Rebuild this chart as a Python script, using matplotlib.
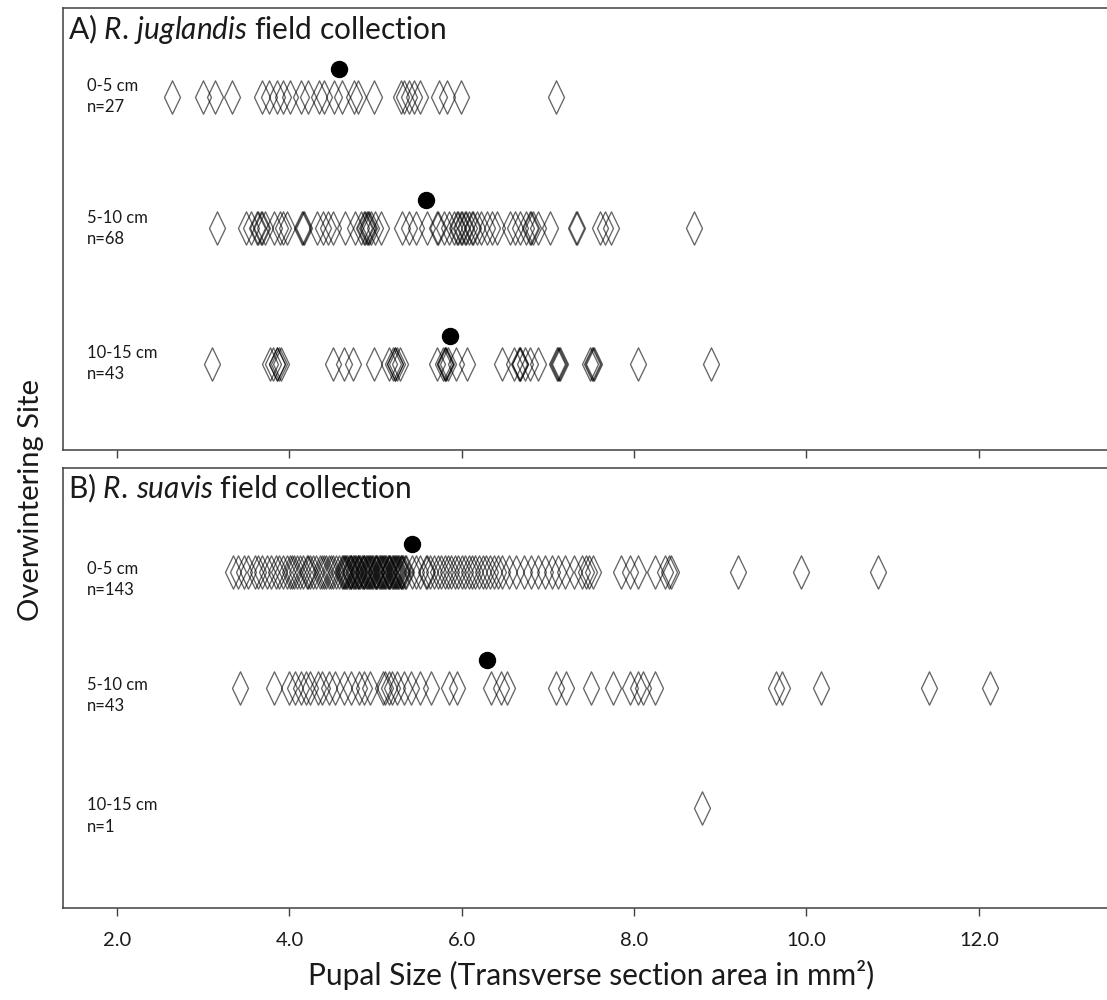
import matplotlib
matplotlib.use("Agg")
import matplotlib.pyplot as plt
from matplotlib.path import Path
from matplotlib.transforms import blended_transform_factory

plt.rcParams['font.family'] = ['Lato', 'DejaVu Sans']
plt.rcParams['mathtext.fontset'] = 'custom'
plt.rcParams['mathtext.rm'] = 'Lato'
plt.rcParams['mathtext.it'] = 'Lato:italic'

# ---------------- data ----------------
depths = ["0-5 cm", "5-10 cm", "10-15 cm"]

jug_0_5 = [2.64, 3.00, 3.14, 3.33, 3.68, 3.76, 3.86, 3.92, 4.01, 4.13, 4.22, 4.34, 4.40,
           4.52, 4.61, 4.75, 4.79, 4.98, 5.29, 5.33, 5.39, 5.45, 5.52, 5.74, 5.83, 5.99, 7.09]
jug_5_10 = [3.16, 3.49, 3.55, 3.62, 3.63, 3.67, 3.68, 3.72, 3.82,
            3.89, 3.93, 3.97, 4.15, 4.16, 4.17, 4.32, 4.39, 4.45, 4.51,
            4.64, 4.76, 4.83, 4.87, 4.88, 4.90, 4.91, 4.92, 4.95, 4.99,
            5.06, 5.31, 5.39, 5.47, 5.60, 5.71, 5.72, 5.79, 5.85, 5.91,
            5.95, 5.96, 5.99, 6.00, 6.04, 6.05, 6.08, 6.12, 6.13, 6.18,
            6.22, 6.29, 6.35, 6.41, 6.56, 6.62, 6.68, 6.75, 6.79, 6.80,
            6.83, 6.89, 7.02, 7.32, 7.34, 7.60, 7.66, 7.73, 8.69]
jug_10_15 = [3.10, 3.77, 3.81, 3.85, 3.86, 3.88, 3.90, 4.50, 4.63, 4.74, 4.98, 5.15, 5.20,
             5.22, 5.23, 5.25, 5.28, 5.71, 5.78, 5.80, 5.81, 5.82, 5.84, 5.93, 6.06, 6.47,
             6.60, 6.66, 6.67, 6.68, 6.73, 6.79, 6.88, 7.10, 7.12, 7.13, 7.14, 7.49, 7.51,
             7.52, 7.53, 8.05, 8.89]

sua_0_5 = [3.35, 3.40, 3.47, 3.52, 3.60,
           3.63, 3.68, 3.74, 3.79, 3.84, 3.88, 3.93, 3.97,
           4.01, 4.03, 4.05, 4.09, 4.12, 4.16, 4.20, 4.22, 4.24, 4.27, 4.31, 4.35, 4.38,
           4.40, 4.42, 4.46, 4.48, 4.50, 4.54, 4.57,
           4.61, 4.62, 4.63, 4.65, 4.66, 4.67, 4.69, 4.70, 4.71, 4.72, 4.74, 4.75, 4.76,
           4.77, 4.79, 4.80, 4.81, 4.82, 4.84, 4.85, 4.86, 4.87, 4.89, 4.90, 4.91, 4.92,
           4.94, 4.95, 4.96, 4.97, 4.99, 5.00, 5.01, 5.02, 5.04, 5.05, 5.06, 5.07, 5.09,
           5.10, 5.11, 5.12, 5.14, 5.15, 5.16, 5.17, 5.19, 5.20, 5.21, 5.22, 5.24, 5.25,
           5.26, 5.27, 5.29, 5.30, 5.31, 5.32, 5.34, 5.35,
           5.42, 5.47, 5.52, 5.58, 5.60, 5.63, 5.68, 5.72, 5.76, 5.80, 5.84, 5.88, 5.92,
           5.96, 6.00,
           6.04, 6.08, 6.12, 6.15, 6.20, 6.25, 6.28, 6.33, 6.37, 6.42, 6.47, 6.55, 6.63,
           6.72, 6.80, 6.88, 6.97, 7.05, 7.12, 7.20, 7.30, 7.40, 7.44, 7.48, 7.52,
           7.85, 7.95, 8.04, 8.24, 8.36, 8.40, 8.43,
           9.20, 9.94, 10.83]
sua_5_10 = [3.43, 3.82, 3.99, 4.07, 4.13, 4.19, 4.24, 4.33, 4.38, 4.46, 4.53, 4.63, 4.71,
            4.81, 4.87, 4.94, 5.08, 5.11, 5.15, 5.19, 5.25, 5.33, 5.41, 5.52, 5.64, 5.85,
            5.95, 6.34, 6.45, 6.53, 7.09, 7.21, 7.50, 7.75, 7.95, 8.04, 8.10, 8.24, 9.65,
            9.71, 10.17, 11.42, 12.13]
sua_10_15 = [8.79]

jug_means = [4.57, 5.59, 5.86]
sua_means = [5.42, 6.29, None]

x_ticks = [2.0, 4.0, 6.0, 8.0, 10.0, 12.0]
x_tick_labels = ["2.0", "4.0", "6.0", "8.0", "10.0", "12.0"]

panels = [
    dict(title=r"A) $\it{R.\,juglandis}$ field collection",
         groups=[jug_0_5, jug_5_10, jug_10_15], means=jug_means,
         rows=[0.201, 0.498, 0.805], label_shift=0.0,
         rect=[0.0569, 0.550, 0.955, 0.442], ticklabels=False),
    dict(title=r"B) $\it{R.\,suavis}$ field collection",
         groups=[sua_0_5, sua_5_10, sua_10_15], means=sua_means,
         rows=[0.236, 0.500, 0.773], label_shift=0.018,
         rect=[0.0569, 0.092, 0.955, 0.440], ticklabels=True),
]

# tall diamond marker
diamond = Path([(0, 1), (0.48, 0), (0, -1), (-0.48, 0), (0, 1)],
               [Path.MOVETO, Path.LINETO, Path.LINETO, Path.LINETO, Path.CLOSEPOLY])

fig = plt.figure(figsize=(11.07, 10), dpi=100)
spine_col = "#404040"
text_col = "#1a1a1a"

for p in panels:
    ax = fig.add_axes(p["rect"])
    ax.set_xlim(1.372, 13.64)
    ax.set_ylim(1, 0)
    for s in ax.spines.values():
        s.set_color(spine_col)
        s.set_linewidth(1.1)
    ax.set_yticks([])
    ax.set_xticks(x_ticks)
    ax.tick_params(axis='x', direction='out', length=6, width=1.0, color=spine_col,
                   labelsize=14.5, labelcolor=text_col, pad=11)
    if p["ticklabels"]:
        ax.set_xticklabels(x_tick_labels)
    else:
        ax.set_xticklabels([])
    tr = blended_transform_factory(ax.transAxes, ax.transData)
    for vals, ypos, mean, dname in zip(p["groups"], p["rows"], p["means"], depths):
        ax.plot(vals, [ypos] * len(vals), linestyle="none", marker=diamond,
                markersize=24, markerfacecolor="none", markeredgecolor=(0, 0, 0, 0.6),
                markeredgewidth=0.95)
        if mean is not None:
            ax.plot([mean], [ypos - 0.063], linestyle="none", marker="o",
                    markersize=11.5, color="black")
        ax.text(0.023, ypos + p["label_shift"] - 0.024, dname, transform=tr,
                fontsize=12, va="center", ha="left", color=text_col)
        ax.text(0.023, ypos + p["label_shift"] + 0.024, f"n={len(vals)}", transform=tr,
                fontsize=12, va="center", ha="left", color=text_col)
    ax.text(0.0045, 0.047, p["title"], transform=tr, fontsize=21.5,
            va="center", ha="left", color=text_col)
    if p["ticklabels"]:
        ax.set_xlabel("Pupal Size (Transverse section area in mm²)", fontsize=21.5,
                      labelpad=8, color=text_col)

fig.text(0.028, 0.50, "Overwintering Site", rotation=90, fontsize=21,
         va="center", ha="center", color=text_col)

fig.savefig("out.png", dpi=100)
